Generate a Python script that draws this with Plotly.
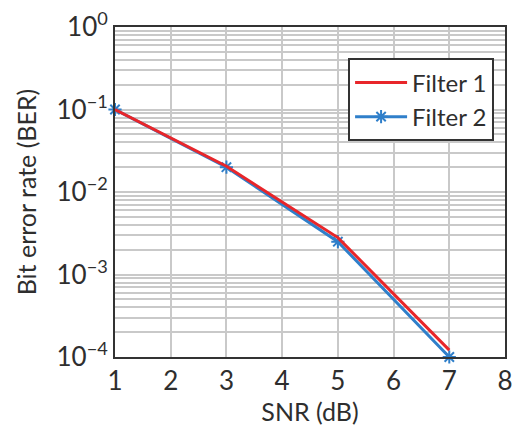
import plotly.graph_objects as go

snr = [1, 3, 5, 7]
ber_filter1 = [0.1, 0.0205, 0.0028, 0.000121]
ber_filter2 = [0.1, 0.02, 0.0025, 0.0001]
x_ticks = [1, 2, 3, 4, 5, 6, 7, 8]
y_tickvals = [1, 0.1, 0.01, 0.001, 0.0001]
y_ticktext = ["10<sup>0</sup>", "10<sup>−1</sup>", "10<sup>−2</sup>", "10<sup>−3</sup>", "10<sup>−4</sup>"]

font_family = "Lato, 'Open Sans', sans-serif"
grid_col = "#c9c9c9"
text_col = "#2e2e2e"

fig = go.Figure()
fig.add_trace(go.Scatter(
    x=snr, y=ber_filter2, name="Filter 2", mode="lines+markers",
    line=dict(color="#2f7fca", width=3),
    marker=dict(symbol="asterisk-open", size=11, color="#2f7fca",
                line=dict(color="#2f7fca", width=2)),
    cliponaxis=False,
))
fig.add_trace(go.Scatter(
    x=snr, y=ber_filter1, name="Filter 1", mode="lines",
    line=dict(color="#e8262a", width=3),
    cliponaxis=False,
))

fig.update_layout(
    width=520, height=426,
    margin=dict(l=115, r=7, t=20, b=69),
    paper_bgcolor="white", plot_bgcolor="white",
    font=dict(family=font_family, color=text_col, size=24),
    showlegend=True,
    legend=dict(
        x=0.972, y=0.905, xanchor="right", yanchor="top",
        bordercolor="#333333", borderwidth=2, bgcolor="white",
        traceorder="reversed",
        font=dict(size=24, color=text_col),
        itemwidth=52, tracegroupgap=0,
    ),
    xaxis=dict(
        range=[1, 8], tickvals=x_ticks, showgrid=True, gridcolor=grid_col, gridwidth=1.5,
        showline=True, linecolor="#333333", linewidth=2, mirror=True,
        ticks="", zeroline=False, ticklabeloverflow="allow",
        title=dict(text="SNR (dB)", standoff=4, font=dict(size=25)),
        tickfont=dict(size=26),
    ),
    yaxis=dict(
        type="log", range=[-4, 0], tickvals=y_tickvals, ticktext=y_ticktext,
        showgrid=True, gridcolor=grid_col, gridwidth=1.5,
        minor=dict(dtick="D1", showgrid=True, gridcolor=grid_col, gridwidth=1.5, ticks=""),
        showline=True, linecolor="#333333", linewidth=2, mirror=True,
        ticks="", zeroline=False, ticklabeloverflow="allow",
        title=dict(text="Bit error rate (BER)", standoff=13, font=dict(size=25)),
        tickfont=dict(size=26),
    ),
)

fig.write_html("out.html", config={"displayModeBar": False},
               post_script="document.body.style.margin='0';")
